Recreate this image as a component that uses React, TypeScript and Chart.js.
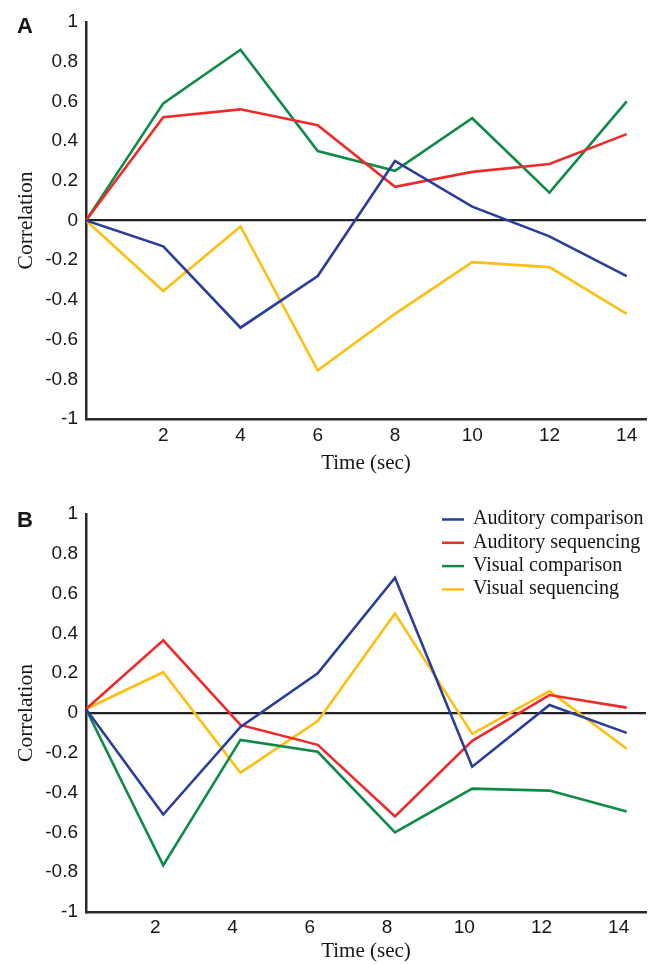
import React, { useEffect, useRef } from "react";
import { Chart, registerables } from "chart.js";

Chart.register(...registerables);

// Sample times (sec)
const times = [0, 2, 4, 6, 8, 10, 12, 14];
const xTickValues = [2, 4, 6, 8, 10, 12, 14];
const yTickValues = [-1, -0.8, -0.6, -0.4, -0.2, 0, 0.2, 0.4, 0.6, 0.8, 1];

const seriesNames = [
  "Auditory comparison",
  "Auditory sequencing",
  "Visual comparison",
  "Visual sequencing",
];
const seriesColors = ["#2a3d98", "#ee2a2a", "#0f8a47", "#fdbf12"];

// Panel A correlations
const aAuditoryComparison = [0, -0.13, -0.54, -0.28, 0.3, 0.07, -0.08, -0.28];
const aAuditorySequencing = [0, 0.52, 0.56, 0.48, 0.17, 0.245, 0.285, 0.435];
const aVisualComparison = [0, 0.59, 0.86, 0.35, 0.25, 0.515, 0.14, 0.6];
const aVisualSequencing = [0, -0.355, -0.03, -0.755, -0.47, -0.21, -0.235, -0.47];

// Panel B correlations
const bAuditoryComparison = [0.02, -0.51, -0.07, 0.2, 0.68, -0.27, 0.04, -0.1];
const bAuditorySequencing = [0.02, 0.365, -0.06, -0.16, -0.52, -0.14, 0.09, 0.027];
const bVisualComparison = [0.02, -0.765, -0.135, -0.195, -0.6, -0.38, -0.39, -0.495];
const bVisualSequencing = [0.02, 0.205, -0.3, -0.04, 0.5, -0.105, 0.11, -0.18];

const W = 653;
const TEXT = "#161616";
const SANS = "'Liberation Sans', Arial, sans-serif";
const SERIF = "'Liberation Serif', 'Times New Roman', serif";

type PanelProps = {
  label: string;
  series: number[][];
  height: number;
  padTop: number;
  xAxisHeight: number;
  xLabelPad: number;
  xLabelShift: number;
  xTitlePad: number;
  showLegend: boolean;
  labelBaseline: number;
};

function Panel(props: PanelProps) {
  const ref = useRef<HTMLCanvasElement | null>(null);

  useEffect(() => {
    const canvas = ref.current;
    if (!canvas) return;

    const panelLabel = {
      id: "panelLabel",
      afterDraw(chart: any) {
        const ctx = chart.ctx;
        ctx.save();
        ctx.fillStyle = TEXT;
        ctx.font = `bold 22px ${SANS}`;
        ctx.textBaseline = "alphabetic";
        ctx.textAlign = "left";
        ctx.fillText(props.label, 17, props.labelBaseline);
        ctx.restore();
      },
    };

    const legendLines = {
      id: "legendLines",
      afterDraw(chart: any) {
        if (!props.showLegend) return;
        const ctx = chart.ctx;
        ctx.save();
        ctx.font = `20px ${SERIF}`;
        ctx.textAlign = "left";
        ctx.textBaseline = "alphabetic";
        chart.data.datasets.forEach((ds: any, i: number) => {
          const y = 39.5 + i * 23.3;
          ctx.strokeStyle = ds.borderColor;
          ctx.lineWidth = 2.5;
          ctx.beginPath();
          ctx.moveTo(442, y);
          ctx.lineTo(464, y);
          ctx.stroke();
          ctx.fillStyle = TEXT;
          ctx.fillText(ds.label, 473, y + 4.8);
        });
        ctx.restore();
      },
    };

    const chart = new Chart(canvas, {
      type: "line",
      data: {
        datasets: props.series.map((vals, i) => ({
          label: seriesNames[i],
          data: times.map((t, j) => ({ x: t, y: vals[j] })),
          borderColor: seriesColors[i],
          backgroundColor: seriesColors[i],
          borderWidth: 2.6,
          pointRadius: 0,
          tension: 0,
          fill: false,
        })),
      },
      options: {
        animation: false,
        responsive: false,
        maintainAspectRatio: false,
        events: [],
        layout: { padding: { top: props.padTop, right: 7, left: 0, bottom: 0 } },
        plugins: {
          legend: { display: false },
          tooltip: { enabled: false },
        },
        scales: {
          x: {
            type: "linear",
            min: 0,
            max: 14.5,
            afterBuildTicks: (scale: any) => {
              scale.ticks = xTickValues.map((v) => ({ value: v }));
            },
            afterFit: (scale: any) => {
              scale.height = props.xAxisHeight;
            },
            grid: { display: false, drawTicks: false },
            border: { display: true, color: "#2a2a2a", width: 2.5 },
            ticks: {
              padding: props.xLabelPad,
              labelOffset: props.xLabelShift,
              color: TEXT,
              font: { family: SANS, size: 19 },
              maxRotation: 0,
              autoSkip: false,
            },
            title: {
              display: true,
              text: "Time (sec)",
              color: TEXT,
              font: { family: SERIF, size: 21 },
              padding: { top: 0, bottom: props.xTitlePad },
            },
          },
          y: {
            type: "linear",
            min: -1,
            max: 1,
            afterBuildTicks: (scale: any) => {
              scale.ticks = yTickValues.map((v) => ({ value: v }));
            },
            afterFit: (scale: any) => {
              scale.width = 86;
            },
            grid: {
              drawTicks: false,
              color: (c: any) => (c.tick && c.tick.value === 0 ? "#222" : "rgba(0,0,0,0)"),
              lineWidth: 2.2,
            },
            border: { display: true, color: "#2a2a2a", width: 2.5 },
            ticks: {
              padding: 8,
              color: TEXT,
              font: { family: SANS, size: 19 },
              callback: (v: any) => String(Math.round(Number(v) * 10) / 10),
              autoSkip: false,
            },
            title: {
              display: true,
              text: "Correlation",
              color: TEXT,
              font: { family: SERIF, size: 21.5 },
              padding: { top: 13, bottom: 0 },
            },
          },
        },
      },
      plugins: [panelLabel, legendLines],
    });

    return () => chart.destroy();
  }, []);

  return (
    <canvas
      ref={ref}
      width={W}
      height={props.height}
      style={{ display: "block", width: W, height: props.height }}
    />
  );
}

export default function App() {
  return (
    <div
      style={{
        position: "absolute",
        left: 0,
        top: 0,
        width: W,
        height: 964,
        background: "#fff",
      }}
    >
      <Panel
        label="A"
        series={[aAuditoryComparison, aAuditorySequencing, aVisualComparison, aVisualSequencing]}
        height={480}
        padTop={22}
        xAxisHeight={61}
        xLabelPad={5}
        xLabelShift={0}
        xTitlePad={4}
        showLegend={false}
        labelBaseline={33}
      />
      <Panel
        label="B"
        series={[bAuditoryComparison, bAuditorySequencing, bVisualComparison, bVisualSequencing]}
        height={484}
        padTop={34}
        xAxisHeight={52}
        xLabelPad={4}
        xLabelShift={-8}
        xTitlePad={0}
        showLegend={true}
        labelBaseline={47}
      />
    </div>
  );
}
